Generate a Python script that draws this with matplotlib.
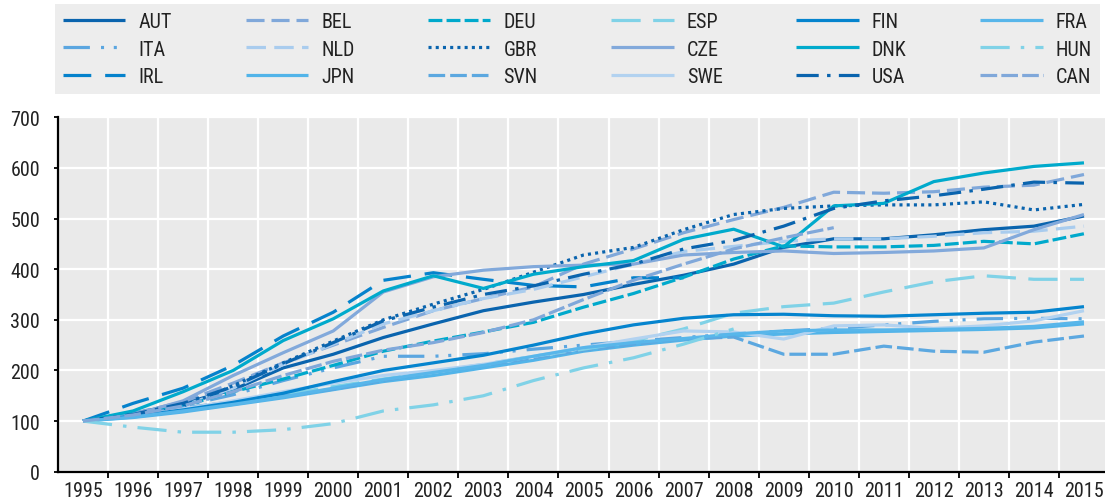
import numpy as np
import matplotlib
matplotlib.use("Agg")
import matplotlib.pyplot as plt
from matplotlib import font_manager

years = list(range(1995, 2016))
nan = np.nan

AUT = [100, 115, 135, 162, 205, 232, 265, 292, 318, 335, 350, 370, 388, 410, 443, 460, 460, 468, 478, 485, 505]
ITA = [100, 113, 130, 152, 180, 205, 228, 228, 233, 242, 250, 258, 265, 272, 278, 283, 290, 297, 302, 303, 302]
IRL = [100, 135, 165, 210, 268, 315, 378, 393, 380, 368, 365, 383, 383, nan, nan, nan, nan, nan, nan, nan, nan]
BEL = [100, 115, 138, 175, 215, 250, 285, 318, 342, 365, 410, 440, 472, 498, 522, 552, 550, 553, 562, 566, 587]
NLD = [100, 112, 130, 165, 212, 252, 292, 318, 342, 360, 385, 410, 435, 445, 455, 460, 460, 465, 472, 475, 485]
JPN = [100, 107, 118, 132, 146, 162, 178, 190, 205, 220, 238, 250, 260, 268, 272, 275, 277, 279, 281, 284, 292]
DEU = [100, 112, 130, 158, 183, 210, 238, 258, 276, 295, 325, 352, 384, 420, 446, 444, 444, 447, 455, 450, 470]
GBR = [100, 110, 128, 170, 215, 258, 300, 331, 360, 394, 428, 443, 478, 508, 520, 525, 527, 527, 533, 517, 528]
SVN = [100, 112, 126, 138, 150, 163, 180, 197, 210, 225, 240, 252, 262, 266, 232, 232, 248, 238, 236, 256, 268]
ESP = [100, 110, 122, 137, 152, 168, 183, 197, 212, 228, 242, 258, 282, 313, 326, 333, 355, 375, 387, 380, 380]
CZE = [100, 112, 140, 190, 235, 278, 355, 385, 398, 405, 408, 410, 428, 433, 436, 431, 433, 436, 442, 478, 508]
SWE = [100, 110, 124, 140, 158, 175, 190, 200, 212, 228, 245, 262, 278, 276, 262, 288, 290, 283, 288, 298, 318]
FIN = [100, 110, 122, 137, 155, 178, 200, 215, 230, 250, 272, 290, 303, 310, 311, 308, 307, 310, 313, 315, 326]
DNK = [100, 120, 158, 200, 259, 302, 357, 387, 362, 390, 405, 417, 459, 479, 444, 525, 530, 573, 590, 603, 610]
USA = [100, 113, 135, 168, 213, 255, 298, 325, 350, 367, 390, 410, 440, 457, 485, 520, 535, 545, 558, 572, 570]
FRA = [100, 108, 120, 133, 148, 165, 182, 196, 210, 228, 245, 255, 263, 272, 278, 280, 280, 281, 283, 287, 296]
HUN = [100, 88, 78, 78, 83, 95, 120, 132, 150, 180, 205, 225, 252, 282, nan, nan, nan, nan, nan, nan, nan]
CAN = [100, 112, 130, 158, 190, 218, 240, 255, 275, 300, 340, 378, 410, 440, 462, 482, nan, nan, nan, nan, nan]

# order arranged so that a column-major legend reads row-wise like the reference
names = ["AUT", "ITA", "IRL", "BEL", "NLD", "JPN", "DEU", "GBR", "SVN",
         "ESP", "CZE", "SWE", "FIN", "DNK", "USA", "FRA", "HUN", "CAN"]
series = {"AUT": AUT, "ITA": ITA, "IRL": IRL, "BEL": BEL, "NLD": NLD, "JPN": JPN,
          "DEU": DEU, "GBR": GBR, "SVN": SVN, "ESP": ESP, "CZE": CZE, "SWE": SWE,
          "FIN": FIN, "DNK": DNK, "USA": USA, "FRA": FRA, "HUN": HUN, "CAN": CAN}

styles = {
    "AUT": ("#0A64AE", "-"),
    "ITA": ("#5BA6E0", (0, (19, 8, 2.2, 7, 2.2, 8))),
    "IRL": ("#0582CC", (0, (20, 10))),
    "BEL": ("#80A8DA", (0, (13, 5))),
    "NLD": ("#A9CCEE", (0, (14, 6))),
    "JPN": ("#52B4E9", "-"),
    "DEU": ("#00A9CC", (0, (10, 3))),
    "GBR": ("#0A64AE", (0, (2.2, 3))),
    "SVN": ("#5CA8E0", (0, (12, 3.6))),
    "ESP": ("#80D2E7", (0, (21, 9))),
    "CZE": ("#82A9DB", "-"),
    "SWE": ("#B2D2F0", "-"),
    "FIN": ("#0584CE", "-"),
    "DNK": ("#00AACC", "-"),
    "USA": ("#0A64AE", (0, (16, 6, 2.5, 6))),
    "FRA": ("#58B6EA", "-"),
    "HUN": ("#80D2E7", (0, (21, 8, 2.5, 8))),
    "CAN": ("#80A8DA", (0, (12, 3))),
}

yticks = [0, 100, 200, 300, 400, 500, 600, 700]

# pick a narrow face if one is installed, otherwise Liberation Sans
avail = {f.name for f in font_manager.fontManager.ttflist}
narrow = [n for n in ["Liberation Sans Narrow", "Arial Narrow", "Roboto Condensed",
                      "Open Sans Condensed", "DejaVu Sans Condensed"] if n in avail]
if narrow:
    fam = [narrow[0], "DejaVu Sans"]
    FS = 14.5
else:
    fam = ["Liberation Sans", "DejaVu Sans"]
    FS = 13
plt.rcParams["font.family"] = fam
plt.rcParams["lines.scale_dashes"] = False

W, H = 1105, 502
fig = plt.figure(figsize=(W / 100, H / 100), dpi=100)
fig.patch.set_facecolor("white")
ax = fig.add_axes([58 / W, 1 - 472.7 / H, (1109 - 58) / W, (472.7 - 118.3) / H])
ax.set_facecolor("#EAEAEA")

x = np.arange(len(years))
handles = []
for n in names:
    c, ls = styles[n]
    h, = ax.plot(x, series[n], color=c, linestyle=ls, linewidth=2.3,
                 solid_capstyle="butt", dash_capstyle="butt", label=n)
    handles.append(h)

ax.set_xlim(-0.5, len(years) - 0.5)
ax.set_ylim(0, 700)
ax.set_yticks(yticks)
ax.set_yticklabels([str(v) for v in yticks], fontsize=FS, color="#222222")
ax.set_xticks(np.arange(len(years) - 1) + 0.5)
ax.set_xticklabels([])
ax.set_xticks(x, minor=True)
ax.set_xticklabels([str(y) for y in years], minor=True, fontsize=FS, color="#222222")
ax.tick_params(axis="x", which="minor", length=0, pad=7)
ax.tick_params(axis="x", which="major", length=4, width=1.3, direction="out", color="black")
ax.tick_params(axis="y", length=3, width=1.3, pad=10, color="black")
ax.grid(True, which="major", color="white", linewidth=1.6)
ax.set_axisbelow(True)
for s in ["top", "right"]:
    ax.spines[s].set_visible(False)
for s in ["left", "bottom"]:
    ax.spines[s].set_linewidth(1.6)
    ax.spines[s].set_color("black")

leg = fig.legend(handles=handles, labels=names, ncol=6, loc="upper left",
                 bbox_to_anchor=(55 / W, 1 - 88 / H, (1100 - 55) / W, (88 - 5) / H),
                 mode="expand", frameon=True, fancybox=False, fontsize=FS,
                 handlelength=3.1, handletextpad=0.65, labelspacing=0.42,
                 borderpad=0.4, borderaxespad=0)
leg.get_frame().set_facecolor("#E9E9E9")
leg.get_frame().set_edgecolor("none")
for t in leg.get_texts():
    t.set_color("#222222")

fig.savefig("out.png", dpi=100)
